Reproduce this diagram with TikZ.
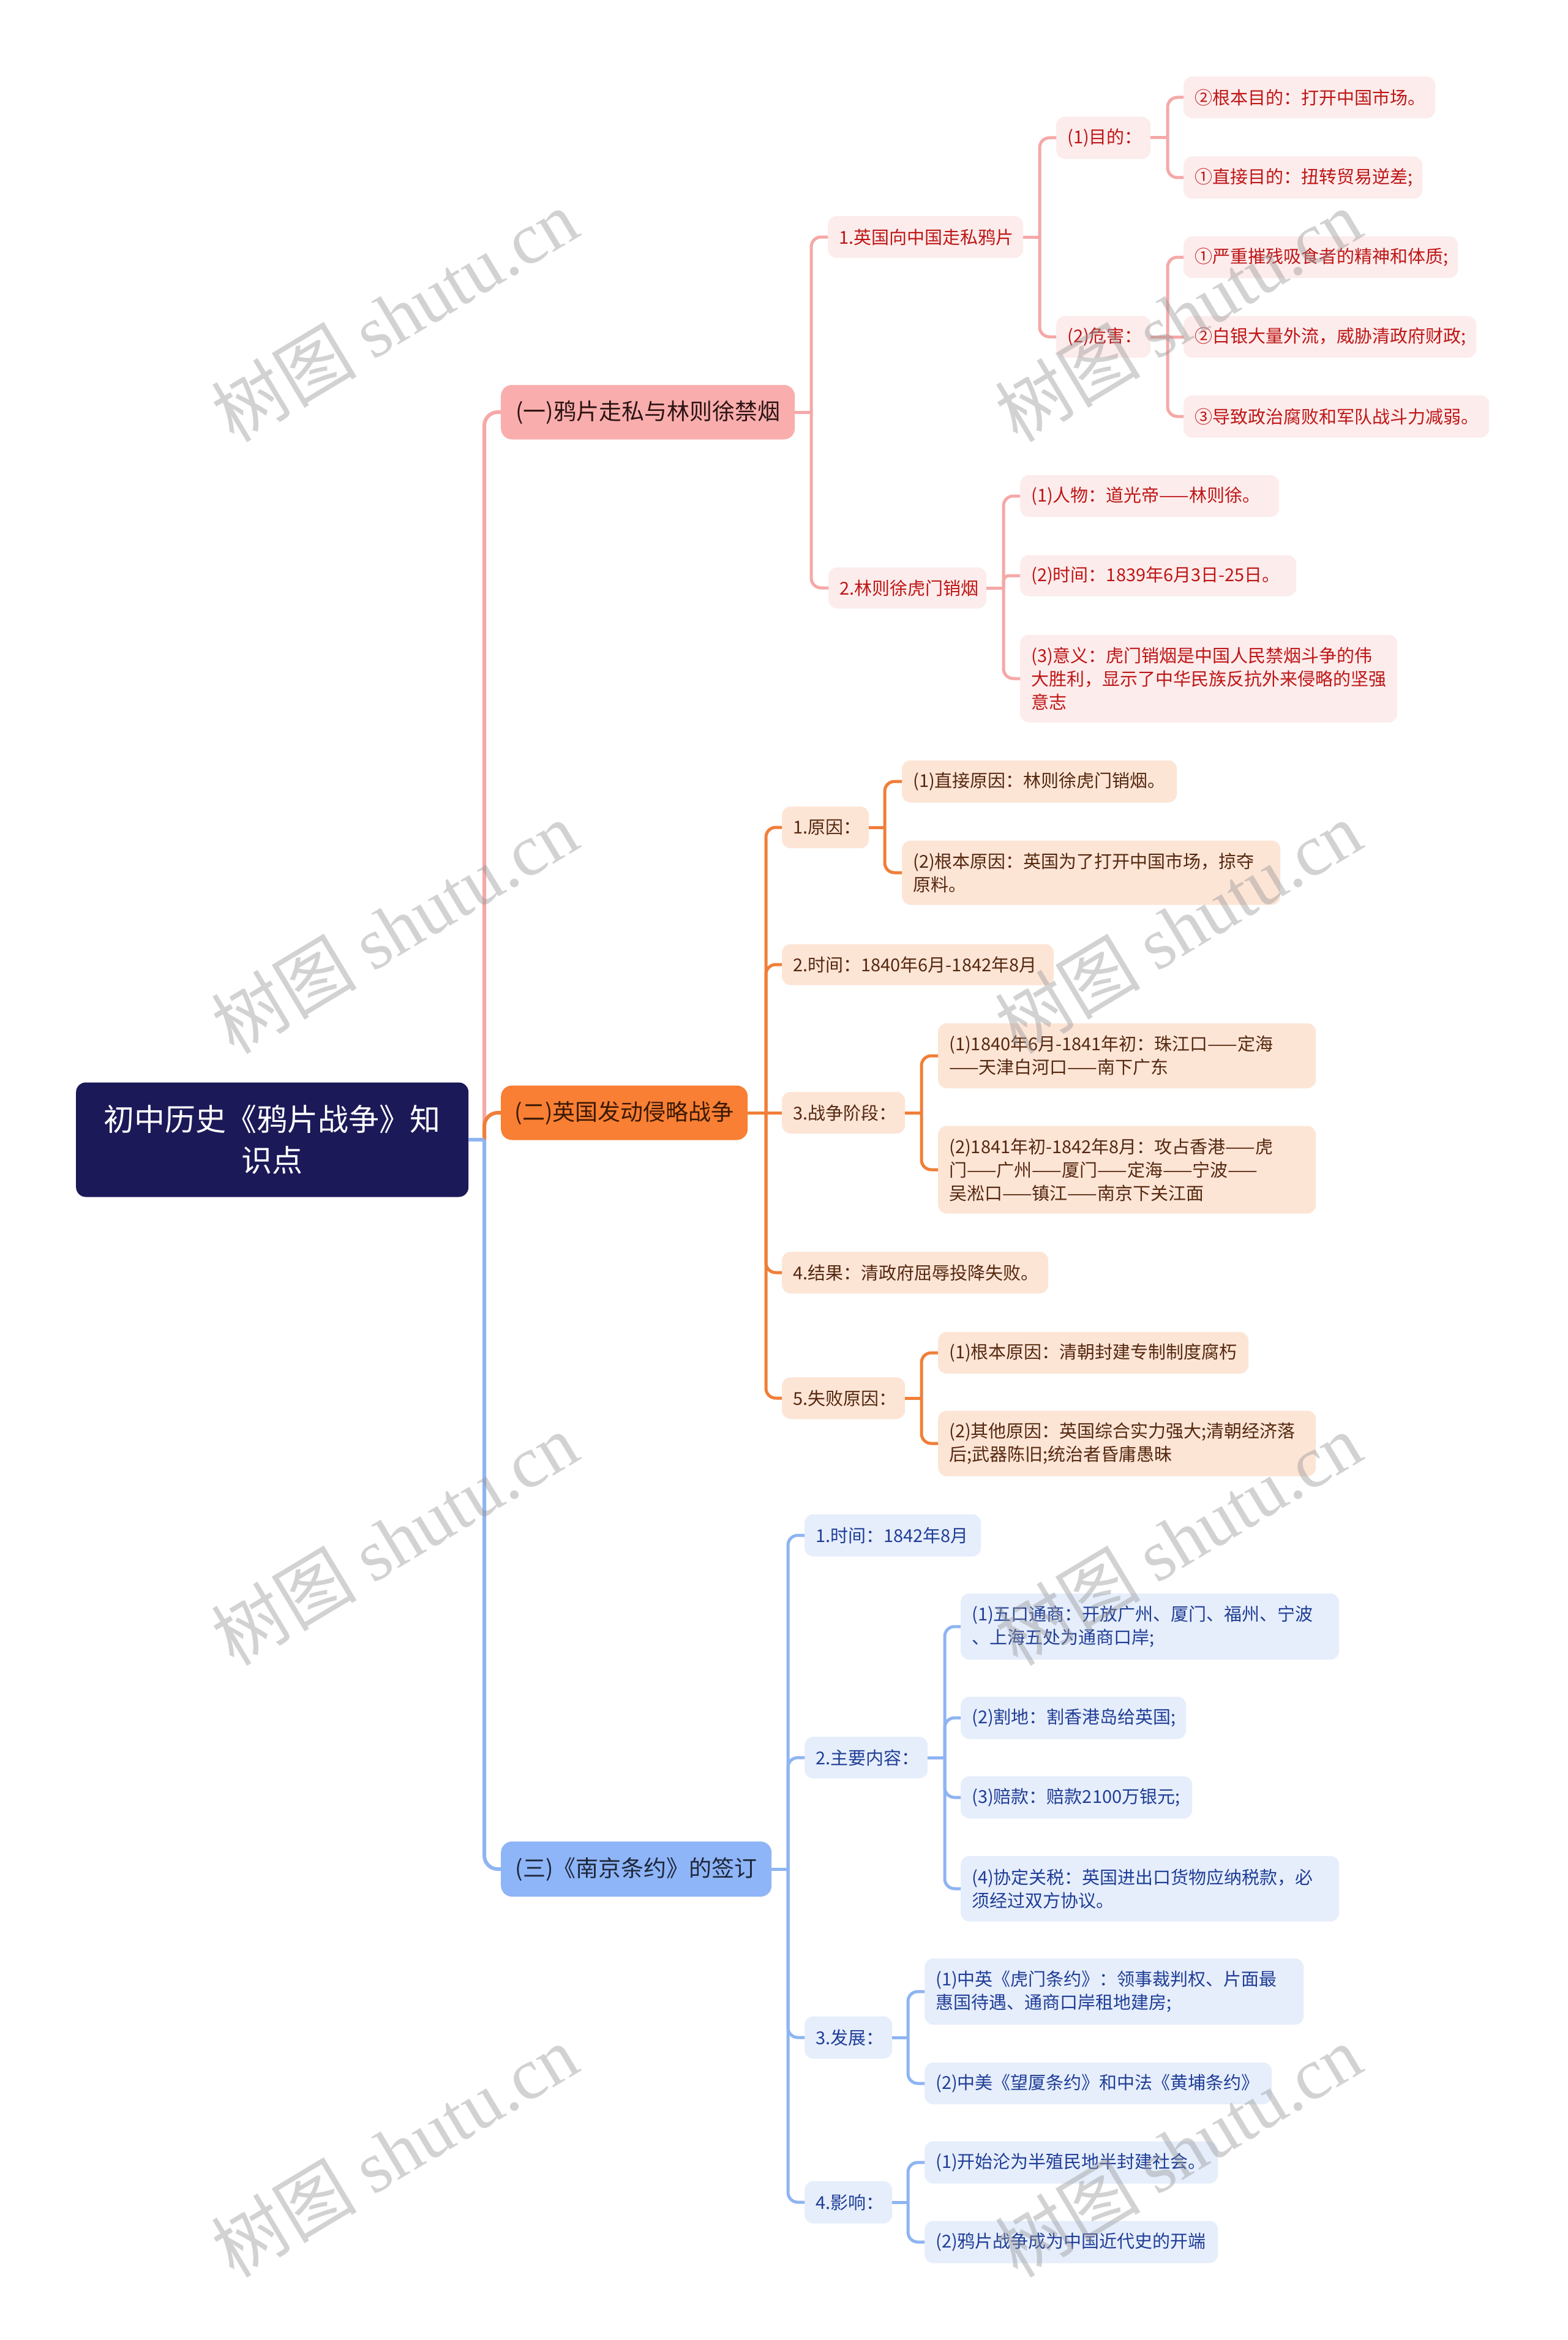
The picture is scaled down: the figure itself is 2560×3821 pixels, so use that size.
\documentclass[tikz,border=0pt]{standalone}
\usepackage{fontspec}
\setmainfont{Noto Sans CJK SC}
\newfontfamily\wmserif{Liberation Serif}
\definecolor{rootF}{RGB}{28,25,88}
\definecolor{pkF}{RGB}{249,174,173}
\definecolor{pkL}{RGB}{253,236,236}
\definecolor{pkT}{RGB}{190,22,22}
\definecolor{pkLine}{RGB}{245,168,167}
\definecolor{pkH}{RGB}{45,20,20}
\definecolor{ogF}{RGB}{248,127,51}
\definecolor{ogL}{RGB}{253,229,214}
\definecolor{ogT}{RGB}{85,40,15}
\definecolor{ogLine}{RGB}{240,126,56}
\definecolor{ogH}{RGB}{60,25,5}
\definecolor{blF}{RGB}{142,181,247}
\definecolor{blL}{RGB}{230,238,252}
\definecolor{blT}{RGB}{32,62,150}
\definecolor{blLine}{RGB}{142,180,242}
\definecolor{blH}{RGB}{30,38,58}
\definecolor{wmC}{RGB}{150,150,150}
\begin{document}
\begin{tikzpicture}[x=1pt,y=-1pt,
  leaf/.style={rounded corners=14pt, inner xsep=18pt, inner ysep=0pt, align=left, anchor=west, font=\fontsize{29}{38}\selectfont},
  pk/.style={leaf, fill=pkL, text=pkT},
  og/.style={leaf, fill=ogL, text=ogT},
  bl/.style={leaf, fill=blL, text=blT},
  main/.style={rounded corners=18pt, inner sep=0pt, align=center, anchor=west, font=\fontsize{37}{44}\selectfont},
  rootline/.style={line width=6pt, rounded corners=22pt},
  subline/.style={line width=5pt, rounded corners=16pt},
  wmark/.style={rotate=31, text=wmC, opacity=0.42, font=\fontsize{119}{119}\selectfont, inner sep=0pt}
]
\fill[white] (0,0) rectangle (2560,3821);
\useasboundingbox (0,0) rectangle (2560,3821);

% root
\node[fill=rootF, text=white, rounded corners=16pt, minimum width=641pt, minimum height=187pt, anchor=west, align=center, inner sep=0pt, font=\fontsize{50}{67}\selectfont] (root) at (124,1861) {初中历史《鸦片战争》知\\识点};

% level 1
\node[main, fill=pkF, text=pkH, minimum width=480pt, minimum height=89pt] (A) at (818,673) {(一)鸦片走私与林则徐禁烟};
\node[main, fill=ogF, text=ogH, minimum width=403pt, minimum height=89pt] (B) at (818,1817) {(二)英国发动侵略战争};
\node[main, fill=blF, text=blH, minimum width=442pt, minimum height=90pt] (C) at (818,3052) {(三)《南京条约》的签订};

% A subtree
\node[pk, text width=283pt, minimum height=68pt] (A1) at (1352,387) {1.英国向中国走私鸦片};
\node[pk, text width=222pt, minimum height=67pt] (A2) at (1353,960) {2.林则徐虎门销烟};
\node[pk, text width=118pt, minimum height=69pt] (A1a) at (1725,225) {(1)目的：};
\node[pk, text width=118pt, minimum height=68pt] (A1b) at (1725,550) {(2)危害：};
\node[pk, text width=375pt, minimum height=68pt] (a1a1) at (1933,159) {②根本目的：打开中国市场。};
\node[pk, text width=354pt, minimum height=69pt] (a1a2) at (1933,290) {①直接目的：扭转贸易逆差;};
\node[pk, text width=412pt, minimum height=68pt] (a1b1) at (1933,420) {①严重摧残吸食者的精神和体质;};
\node[pk, text width=442pt, minimum height=68pt] (a1b2) at (1933,550) {②白银大量外流，威胁清政府财政;};
\node[pk, text width=463pt, minimum height=69pt] (a1b3) at (1933,680) {③导致政治腐败和军队战斗力减弱。};
\node[pk, text width=387pt, minimum height=68pt] (a2a) at (1666,810) {(1)人物：道光帝——林则徐。};
\node[pk, text width=415pt, minimum height=67pt] (a2b) at (1666,940) {(2)时间：1839年6月3日-25日。};
\node[pk, text width=580pt, minimum height=143pt] (a2c) at (1666,1108) {(3)意义：虎门销烟是中国人民禁烟斗争的伟\\大胜利，显示了中华民族反抗外来侵略的坚强\\意志};

% B subtree
\node[og, text width=106pt, minimum height=68pt] (B1) at (1277,1351) {1.原因：};
\node[og, text width=408pt, minimum height=67pt] (B2) at (1277,1575) {2.时间：1840年6月-1842年8月};
\node[og, text width=165pt, minimum height=68pt] (B3) at (1277,1817) {3.战争阶段：};
\node[og, text width=399pt, minimum height=68pt] (B4) at (1277,2078) {4.结果：清政府屈辱投降失败。};
\node[og, text width=165pt, minimum height=68pt] (B5) at (1277,2283) {5.失败原因：};
\node[og, text width=413pt, minimum height=69pt] (b1a) at (1473,1276) {(1)直接原因：林则徐虎门销烟。};
\node[og, text width=582pt, minimum height=105pt] (b1b) at (1473,1425) {(2)根本原因：英国为了打开中国市场，掠夺\\原料。};
\node[og, text width=581pt, minimum height=106pt] (b3a) at (1532,1724) {(1)1840年6月-1841年初：珠江口——定海\\——天津白河口——南下广东};
\node[og, text width=581pt, minimum height=143pt] (b3b) at (1532,1910) {(2)1841年初-1842年8月：攻占香港——虎\\门——广州——厦门——定海——宁波——\\吴淞口——镇江——南京下关江面};
\node[og, text width=471pt, minimum height=68pt] (b5a) at (1532,2209) {(1)根本原因：清朝封建专制制度腐朽};
\node[og, text width=581pt, minimum height=107pt] (b5b) at (1532,2357) {(2)其他原因：英国综合实力强大;清朝经济落\\后;武器陈旧;统治者昏庸愚昧};

% C subtree
\node[bl, text width=252pt, minimum height=69pt] (C1) at (1314,2507) {1.时间：1842年8月};
\node[bl, text width=165pt, minimum height=68pt] (C2) at (1314,2870) {2.主要内容：};
\node[bl, text width=107pt, minimum height=69pt] (C3) at (1314,3327) {3.发展：};
\node[bl, text width=107pt, minimum height=69pt] (C4) at (1314,3596) {4.影响：};
\node[bl, text width=582pt, minimum height=108pt] (c2a) at (1569,2656) {(1)五口通商：开放广州、厦门、福州、宁波\\、上海五处为通商口岸;};
\node[bl, text width=332pt, minimum height=69pt] (c2b) at (1569,2805) {(2)割地：割香港岛给英国;};
\node[bl, text width=342pt, minimum height=69pt] (c2c) at (1569,2935) {(3)赔款：赔款2100万银元;};
\node[bl, text width=582pt, minimum height=107pt] (c2d) at (1569,3084) {(4)协定关税：英国进出口货物应纳税款，必\\须经过双方协议。};
\node[bl, text width=583pt, minimum height=108pt] (c3a) at (1510,3252) {(1)中英《虎门条约》：领事裁判权、片面最\\惠国待遇、通商口岸租地建房;};
\node[bl, text width=531pt, minimum height=68pt] (c3b) at (1510,3402) {(2)中美《望厦条约》和中法《黄埔条约》};
\node[bl, text width=443pt, minimum height=69pt] (c4a) at (1510,3531) {(1)开始沦为半殖民地半封建社会。};
\node[bl, text width=443pt, minimum height=69pt] (c4b) at (1510,3661) {(2)鸦片战争成为中国近代史的开端};

% trunk coordinates
\coordinate (tR) at (791,0);
\coordinate (tA) at (1325,0);
\coordinate (tA1) at (1698,0);
\coordinate (tA1a) at (1907,0);
\coordinate (tA1b) at (1907,0);
\coordinate (tA2) at (1639,0);
\coordinate (tB) at (1251,0);
\coordinate (tB1) at (1445,0);
\coordinate (tB3) at (1505,0);
\coordinate (tB5) at (1505,0);
\coordinate (tC) at (1287,0);
\coordinate (tC2) at (1543,0);
\coordinate (tC3) at (1483,0);
\coordinate (tC4) at (1483,0);

% root connectors
\draw[pkLine, rootline] (tR |- root.east) |- (A.west);
\draw[ogLine, rootline] (tR |- root.east) |- (B.west);
\draw[blLine, rootline] (tR |- root.east) |- (C.west);
\draw[blLine, line width=6pt] (root.east) -- (tR |- root.east);

% A connectors
\draw[pkLine, line width=5pt] (A.east) -- (tA |- A.east);
\draw[pkLine, subline] (tA |- A.east) |- (A1.west);
\draw[pkLine, subline] (tA |- A.east) |- (A2.west);
\draw[pkLine, line width=5pt] (A1.east) -- (tA1 |- A1.east);
\draw[pkLine, subline] (tA1 |- A1.east) |- (A1a.west);
\draw[pkLine, subline] (tA1 |- A1.east) |- (A1b.west);
\draw[pkLine, line width=5pt] (A1a.east) -- (tA1a |- A1a.east);
\draw[pkLine, subline] (tA1a |- A1a.east) |- (a1a1.west);
\draw[pkLine, subline] (tA1a |- A1a.east) |- (a1a2.west);
\draw[pkLine, line width=5pt] (A1b.east) -- (a1b2.west);
\draw[pkLine, subline] (tA1b |- A1b.east) |- (a1b1.west);
\draw[pkLine, subline] (tA1b |- A1b.east) |- (a1b3.west);
\draw[pkLine, line width=5pt] (A2.east) -- (tA2 |- A2.east);
\draw[pkLine, subline] (tA2 |- A2.east) |- (a2a.west);
\draw[pkLine, line width=5pt, rounded corners=9pt] (tA2 |- A2.east) |- (a2b.west);
\draw[pkLine, subline] (tA2 |- A2.east) |- (a2c.west);

% B connectors
\draw[ogLine, line width=5pt] (B.east) -- (B3.west);
\draw[ogLine, subline] (tB |- B.east) |- (B1.west);
\draw[ogLine, subline] (tB |- B.east) |- (B2.west);
\draw[ogLine, subline] (tB |- B.east) |- (B4.west);
\draw[ogLine, subline] (tB |- B.east) |- (B5.west);
\draw[ogLine, line width=5pt] (B1.east) -- (tB1 |- B1.east);
\draw[ogLine, subline] (tB1 |- B1.east) |- (b1a.west);
\draw[ogLine, subline] (tB1 |- B1.east) |- (b1b.west);
\draw[ogLine, line width=5pt] (B3.east) -- (tB3 |- B3.east);
\draw[ogLine, subline] (tB3 |- B3.east) |- (b3a.west);
\draw[ogLine, subline] (tB3 |- B3.east) |- (b3b.west);
\draw[ogLine, line width=5pt] (B5.east) -- (tB5 |- B5.east);
\draw[ogLine, subline] (tB5 |- B5.east) |- (b5a.west);
\draw[ogLine, subline] (tB5 |- B5.east) |- (b5b.west);

% C connectors
\draw[blLine, line width=5pt] (C.east) -- (tC |- C.east);
\draw[blLine, subline] (tC |- C.east) |- (C1.west);
\draw[blLine, subline] (tC |- C.east) |- (C2.west);
\draw[blLine, subline] (tC |- C.east) |- (C3.west);
\draw[blLine, subline] (tC |- C.east) |- (C4.west);
\draw[blLine, line width=5pt] (C2.east) -- (tC2 |- C2.east);
\draw[blLine, subline] (tC2 |- C2.east) |- (c2a.west);
\draw[blLine, subline] (tC2 |- C2.east) |- (c2b.west);
\draw[blLine, subline] (tC2 |- C2.east) |- (c2c.west);
\draw[blLine, subline] (tC2 |- C2.east) |- (c2d.west);
\draw[blLine, line width=5pt] (C3.east) -- (tC3 |- C3.east);
\draw[blLine, subline] (tC3 |- C3.east) |- (c3a.west);
\draw[blLine, subline] (tC3 |- C3.east) |- (c3b.west);
\draw[blLine, line width=5pt] (C4.east) -- (tC4 |- C4.east);
\draw[blLine, subline] (tC4 |- C4.east) |- (c4a.west);
\draw[blLine, subline] (tC4 |- C4.east) |- (c4b.west);

% watermarks
\node[wmark] (wm1) at (644,515) {树图 {\wmserif shutu.cn}};
\node[wmark] (wm2) at (1924,515) {树图 {\wmserif shutu.cn}};
\node[wmark] (wm3) at (644,1514) {树图 {\wmserif shutu.cn}};
\node[wmark] (wm4) at (1924,1514) {树图 {\wmserif shutu.cn}};
\node[wmark] (wm5) at (644,2513) {树图 {\wmserif shutu.cn}};
\node[wmark] (wm6) at (1924,2513) {树图 {\wmserif shutu.cn}};
\node[wmark] (wm7) at (644,3512) {树图 {\wmserif shutu.cn}};
\node[wmark] (wm8) at (1924,3512) {树图 {\wmserif shutu.cn}};
\end{tikzpicture}
\end{document}
